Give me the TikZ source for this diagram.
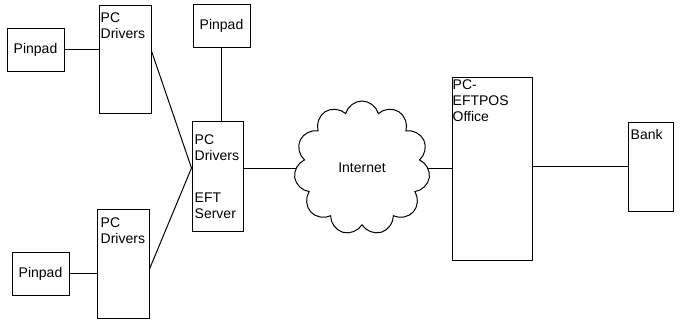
\documentclass[tikz,border=0pt]{standalone}
\usepackage{fontspec}
\setmainfont{Liberation Sans}
\usepackage{tikz}
\usetikzlibrary{shapes.symbols,positioning}
\definecolor{Ink}{HTML}{000000}
\tikzset{
  part/.style={draw=Ink,line width=1pt,fill=white,inner sep=0pt,text=Ink},
  pinpad/.style={part,minimum width=57pt,minimum height=43pt,font=\fontsize{14}{16}\selectfont},
  tallbox/.style={part,minimum width=52pt,minimum height=108pt},
  tag/.style={anchor=north west,inner sep=0pt,align=left,font=\fontsize{14}{16}\selectfont,text=Ink},
  wire/.style={draw=Ink,line width=1pt}
}

\begin{document}
\begin{tikzpicture}[x=1pt,y=-1pt]
\useasboundingbox[fill=white] (0,0) rectangle (685,327);
% terminals on the left
\node[pinpad] (pinA) at (35.5,49.5) {Pinpad};
\node[tallbox] (drvA) at (125,59) {};
\node[tag] (drvAtag) at ([shift={(2,8)}]drvA.north west) {PC\\Drivers};
\node[pinpad] (pinC) at (40.5,273.5) {Pinpad};
\node[tallbox,minimum height=109pt] (drvB) at (123,263.5) {};
\node[tag] (drvBtag) at ([shift={(4,9)}]drvB.north west) {PC\\Drivers};
% server
\node[pinpad] (pinB) at (221.5,25.5) {Pinpad};
\node[part,minimum width=51pt,minimum height=110pt] (eft) at (217.5,176) {};
\node[tag] (eftTop) at ([shift={(3,14)}]eft.north west) {PC\\Drivers};
\node[tag] (eftBot) at ([shift={(3,72)}]eft.north west) {EFT\\Server};
% network and office
\node[part,cloud,cloud puffs=11,aspect=1,minimum width=136pt,minimum height=134pt,
  font=\fontsize{14}{16}\selectfont] (net) at (362,168) {Internet};
\node[part,minimum width=80pt,minimum height=183pt] (office) at (492,168.5) {};
\node[tag] (officeTag) at ([shift={(1,3)}]office.north west) {PC-\\EFTPOS\\Office};
\node[part,minimum width=45pt,minimum height=89pt] (bank) at (650.5,166.5) {};
\node[tag] (bankTag) at ([shift={(3,8)}]bank.north west) {Bank};

\draw[wire] (pinA.east) -- (pinA.east -| drvA.west);
\draw[wire] (pinC.east) -- (pinC.east -| drvB.west);
\draw[wire] (pinB.south) -- (pinB.south |- eft.north);
\draw[wire] ([yshift=8pt]drvA.east) -- ([yshift=8pt]eft.west);
\draw[wire] ([yshift=-5.5pt]drvB.east) -- ([yshift=8pt]eft.west);
\draw[wire] (net.west -| eft.east) -- (net.west);
\draw[wire] (net.east) -- (net.east -| office.west);
\draw[wire] (bank.west -| office.east) -- (bank.west);
\end{tikzpicture}
\end{document}
